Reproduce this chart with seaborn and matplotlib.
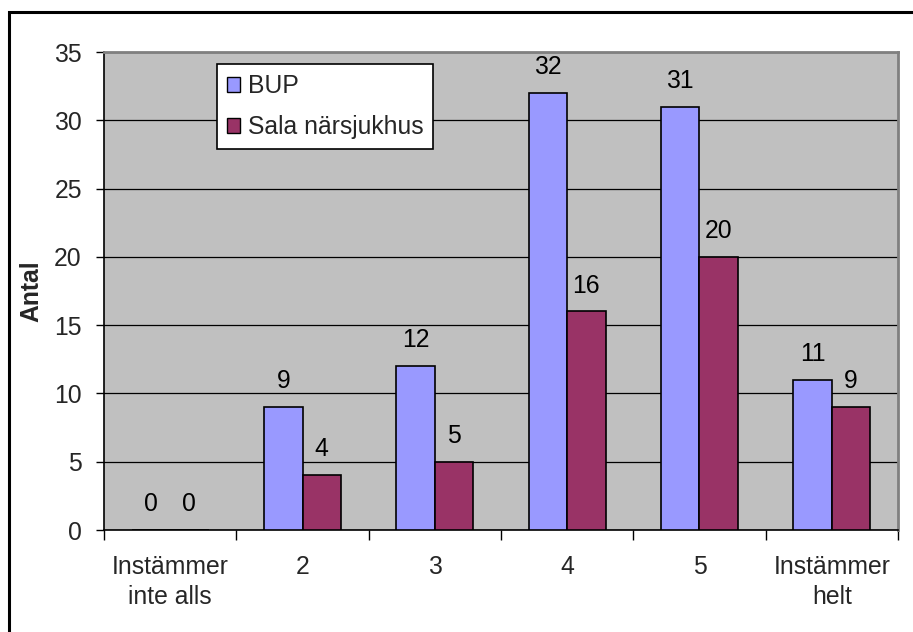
import matplotlib
matplotlib.use("Agg")
import matplotlib.pyplot as plt
from matplotlib.patches import Rectangle, Patch
import seaborn as sns
import pandas as pd

categories = ["Instämmer\ninte alls", "2", "3", "4", "5", "Instämmer\nhelt"]
series_names = ["BUP", "Sala närsjukhus"]
bup = [0, 9, 12, 32, 31, 11]
sala = [0, 4, 5, 16, 20, 9]
y_ticks = [0, 5, 10, 15, 20, 25, 30, 35]
colors = ["#9999FF", "#993366"]

df = pd.DataFrame({
    "Kategori": categories * 2,
    "Antal": bup + sala,
    "Grupp": [series_names[0]] * len(categories) + [series_names[1]] * len(categories),
})

sns.set_theme(style="white")
plt.rcParams["font.family"] = ["Liberation Sans", "DejaVu Sans"]
FS = 17.8

fig = plt.figure(figsize=(9.13, 6.32), dpi=100)
ax = fig.add_axes([104 / 913, 1 - 530 / 632, 794 / 913, 478 / 632])
ax.set_facecolor("#C0C0C0")

sns.barplot(data=df, x="Kategori", y="Antal", hue="Grupp", order=categories,
            hue_order=series_names, palette=colors, width=0.58,
            edgecolor="black", linewidth=1.2, saturation=1, ax=ax, zorder=3)

# value labels above each bar
for container in ax.containers:
    ax.bar_label(container, fmt="%d", padding=10, fontsize=FS, color="black")

ax.set_ylim(0, 35)
ax.set_xlim(-0.5, len(categories) - 0.5)
ax.set_yticks(y_ticks)
ax.grid(axis="y", color="black", linewidth=0.9, zorder=1)
ax.set_axisbelow(True)

ax.tick_params(axis="y", direction="out", length=6, width=1, color="black",
               left=True, labelsize=FS, pad=10)
ax.set_xticks(range(len(categories)))
ax.set_xticklabels(categories, fontsize=FS, linespacing=1.31)
ax.tick_params(axis="x", which="major", length=0, pad=18)
ax.set_xticks([i - 0.5 for i in range(len(categories) + 1)], minor=True)
ax.tick_params(axis="x", which="minor", direction="out", length=7, width=1,
               color="black", bottom=True)

ax.set_xlabel("")
ax.set_ylabel("Antal", fontsize=FS, fontweight="bold")
ax.yaxis.set_label_coords(-0.076, 0.5)

for side in ["left", "bottom"]:
    ax.spines[side].set_color("black")
    ax.spines[side].set_linewidth(1.2)
for side in ["top", "right"]:
    ax.spines[side].set_color("#808080")
    ax.spines[side].set_linewidth(2)

handles = [Patch(facecolor=c, edgecolor="black", linewidth=1) for c in colors]
leg = ax.legend(handles, series_names, loc="upper left",
                bbox_to_anchor=(0.142, 0.975), borderaxespad=0,
                fontsize=FS, frameon=True, fancybox=False, framealpha=1,
                handlelength=0.55, handleheight=0.55, handletextpad=0.3,
                labelspacing=0.7, borderpad=0.4)
leg.get_frame().set_edgecolor("black")
leg.get_frame().set_linewidth(1.2)
leg.get_frame().set_facecolor("white")

# outer chart border
fig.patches.append(Rectangle((9 / 913, -0.1), 1.2, 1 - 12 / 632 + 0.1,
                             transform=fig.transFigure, fill=False,
                             edgecolor="black", linewidth=2.2))

fig.savefig("out.png", dpi=100, facecolor="white")
